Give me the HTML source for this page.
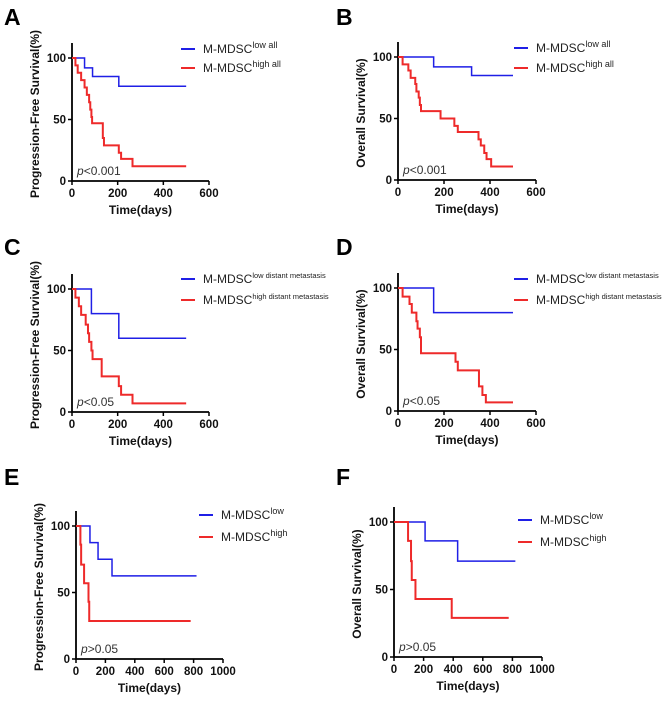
<!DOCTYPE html>
<html><head><meta charset="utf-8">
<style>
body{margin:0;background:#fff;width:669px;height:701px;overflow:hidden}
svg{display:block;font-family:"Liberation Sans",Arial,sans-serif}
.tick{font-size:11.5px;font-weight:bold;fill:#111}
.ttl{font-size:12px;font-weight:bold;fill:#111}
.leg{font-size:12px;fill:#222}
.lab{font-size:23px;font-weight:bold;fill:#000}
.pv{font-size:12px;fill:#333}
</style></head><body>
<svg id="fig" width="669" height="701" viewBox="0 0 669 701"></svg>
<script>
// Panel A
const aLowT=[0,55,90,205,500], aLowS=[100,92,85,77,77];
const aHighT=[0,15,25,40,55,65,75,80,85,88,135,140,205,215,265,500], aHighS=[100,94,88,82,76,70,64,58,52,47,35,29,23,18,12,12];
// Panel B
const bLowT=[0,155,320,500], bLowS=[100,92,85,85];
const bHighT=[0,20,45,55,75,80,90,95,100,185,245,260,350,360,375,385,405,500], bHighS=[100,94,89,83,78,72,67,61,56,50,44,39,33,28,22,17,11,11];
// Panel C
const cLowT=[0,85,205,500], cLowS=[100,80,60,60];
const cHighT=[0,15,30,40,60,70,75,85,90,130,205,215,265,500], cHighS=[100,93,86,79,71,64,57,50,43,29,21,14,7,7];
// Panel D
const dLowT=[0,155,500], dLowS=[100,80,80];
const dHighT=[0,20,50,60,80,85,95,100,250,260,352,367,382,500], dHighS=[100,93,87,80,73,67,60,47,40,33,20,13,7,7];
// Panel E
const eLowT=[0,95,150,245,820], eLowS=[100,87.5,75,62.5,62.5];
const eHighT=[0,30,35,55,85,90,780], eHighS=[100,86,71,57,43,28.6,28.6];
// Panel F
const fLowT=[0,210,430,820], fLowS=[100,86,71,71];
const fHighT=[0,95,115,120,145,390,775], fHighS=[100,86,71,57,43,29,29];
const xTicks600=[0,200,400,600], xTicks1000=[0,200,400,600,800,1000], yTicks=[0,50,100];

const NS="http://www.w3.org/2000/svg", svg=document.getElementById('fig');
function mk(tag,attrs,parent,text){const e=document.createElementNS(NS,tag);for(const k in attrs)e.setAttribute(k,attrs[k]);if(text!==undefined)e.textContent=text;(parent||svg).appendChild(e);return e;}

const panels=[
 {id:'a',L:'A',lx:4,ly:25,ox:72,oy:181,y100:58,xe:209,xmax:600,xt:xTicks600,yt:'Progression-Free Survival(%)',sup:['low all','high all'],lgx:181,lgy:[49,68],pv:'<0.001',low:[aLowT,aLowS],high:[aHighT,aHighS],sm:false},
 {id:'b',L:'B',lx:336,ly:25,ox:398,oy:180,y100:57,xe:536,xmax:600,xt:xTicks600,yt:'Overall Survival(%)',sup:['low all','high all'],lgx:514,lgy:[48,68],pv:'<0.001',low:[bLowT,bLowS],high:[bHighT,bHighS],sm:false},
 {id:'c',L:'C',lx:4,ly:255,ox:72,oy:412,y100:289,xe:209,xmax:600,xt:xTicks600,yt:'Progression-Free Survival(%)',sup:['low distant metastasis','high distant metastasis'],lgx:181,lgy:[279,300],pv:'<0.05',low:[cLowT,cLowS],high:[cHighT,cHighS],sm:true},
 {id:'d',L:'D',lx:336,ly:255,ox:398,oy:411,y100:288,xe:536,xmax:600,xt:xTicks600,yt:'Overall Survival(%)',sup:['low distant metastasis','high distant metastasis'],lgx:514,lgy:[279,300],pv:'<0.05',low:[dLowT,dLowS],high:[dHighT,dHighS],sm:true},
 {id:'e',L:'E',lx:4,ly:485,ox:76,oy:659,y100:526,xe:223,xmax:1000,xt:xTicks1000,yt:'Progression-Free Survival(%)',sup:['low','high'],lgx:199,lgy:[515,537],pv:'>0.05',low:[eLowT,eLowS],high:[eHighT,eHighS],sm:false},
 {id:'f',L:'F',lx:336,ly:485,ox:394,oy:657,y100:522,xe:542,xmax:1000,xt:xTicks1000,yt:'Overall Survival(%)',sup:['low','high'],lgx:518,lgy:[520,542],pv:'>0.05',low:[fLowT,fLowS],high:[fHighT,fHighS],sm:false}
];

panels.forEach(P=>{
 const g=mk('g',{});
 
 
 const X=t=>P.ox+(P.xe-P.ox)*t/P.xmax, Y=s=>P.oy-(P.oy-P.y100)*s/100;
 const lab=mk('text',{x:P.lx,y:P.ly,class:'lab'},g,P.L);
 
 
 const ytop=P.y100-15;
 const ax=mk('path',{d:`M${P.ox},${ytop}V${P.oy}H${P.xe}`,stroke:'#000','stroke-width':1.8,fill:'none'},g);
 
 
 P.xt.forEach(t=>{
  mk('line',{x1:X(t),x2:X(t),y1:P.oy,y2:P.oy+4,stroke:'#000','stroke-width':1.5},g);
  const tl=mk('text',{x:X(t),y:P.oy+16,class:'tick','text-anchor':'middle'},g,t);
  
  
 });
 yTicks.forEach(v=>{
  mk('line',{x1:P.ox-4,x2:P.ox,y1:Y(v),y2:Y(v),stroke:'#000','stroke-width':1.5},g);
  const tl=mk('text',{x:P.ox-6,y:Y(v)+4,class:'tick','text-anchor':'end'},g,v);
  
  
 });
 const xt=mk('text',{x:(P.ox+P.xe)/2,y:P.oy+33,class:'ttl','text-anchor':'middle'},g,'Time(days)');
 
 
 const cy=(ytop+P.oy)/2+2, tx=P.ox-33;
 const yt=mk('text',{x:tx,y:cy,class:'ttl','text-anchor':'middle',transform:`rotate(-90 ${tx} ${cy})`},g,P.yt);
 
 
 const pv=mk('text',{x:P.ox+5,y:P.oy-6,class:'pv'},g);
 
 
 mk('tspan',{'font-style':'italic'},pv,'p');mk('tspan',{},pv,P.pv);
 [['low','#1f1fe6',P.low,1.5],['high','#ee2a2a',P.high,2]].forEach(([nm,col,[T,S],w],i)=>{
  let d=`M${X(T[0])},${Y(S[0])}`;
  for(let k=1;k<T.length;k++){d+=`H${X(T[k])}V${Y(S[k])}`;}
  const pth=mk('path',{d,stroke:col,'stroke-width':w,fill:'none'},g);
  
  
  const ly=P.lgy[i];
  const le=mk('g',{},g);
  
  
  mk('line',{x1:P.lgx,x2:P.lgx+14,y1:ly,y2:ly,stroke:col,'stroke-width':2},le);
  const tt=mk('text',{x:P.lgx+22,y:ly+4,class:'leg'},le,'M-MDSC');
  mk('tspan',{dy:-5,'font-size':P.sm?'7.5px':'9px'},tt,P.sup[i]);
 });
});
</script>
</body></html>
